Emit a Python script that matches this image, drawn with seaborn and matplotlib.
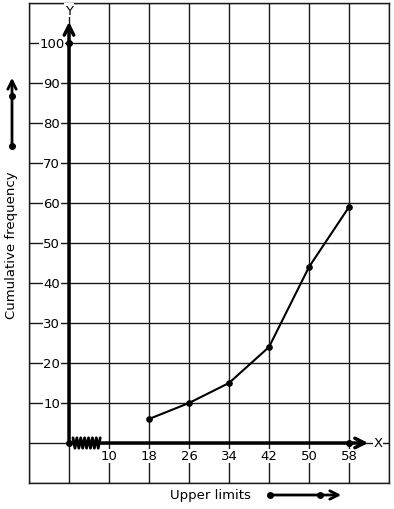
import numpy as np
import pandas as pd
import seaborn as sns
import matplotlib.pyplot as plt

# ogive data
upper_limits = [18, 26, 34, 42, 50, 58]
cum_freq = [6, 10, 15, 24, 44, 59]
x_ticks = [10, 18, 26, 34, 42, 50, 58]
y_ticks = [10, 20, 30, 40, 50, 60, 70, 80, 90, 100]


def to_grid(u):
    # broken x axis: 0 at origin, then 10, 18, ... one grid cell apart
    return (np.asarray(u, dtype=float) - 2) / 8


sns.set_theme(style="white")
plt.rcParams['font.family'] = ['DejaVu Sans']
plt.rcParams['text.color'] = 'black'

fig = plt.figure(figsize=(3.94, 5.10), dpi=100)
ax = fig.add_axes([29 / 394, 26 / 510, 360 / 394, 480 / 510])
ax.set_xlim(-1, 8)
ax.set_ylim(-10, 110)

# grid paper
for gx in range(-1, 9):
    ax.axvline(gx, color='#1a1a1a', lw=1, zorder=1)
for gy in range(-10, 111, 10):
    ax.axhline(gy, color='#1a1a1a', lw=1, zorder=1)
for s in ax.spines.values():
    s.set_color('#1a1a1a')
    s.set_linewidth(1)
ax.set_xticks([])
ax.set_yticks([])

# axes with arrows
ax.annotate('', xy=(0, 106), xytext=(0, 0),
            arrowprops=dict(arrowstyle='->', lw=2.5, color='black', mutation_scale=17), zorder=4)
ax.annotate('', xy=(7.55, 0), xytext=(0, 0),
            arrowprops=dict(arrowstyle='->', lw=2.5, color='black', mutation_scale=17), zorder=4)
ax.plot([0, 0, to_grid(58)], [0, 100, 0], 'o', color='black', ms=4, zorder=5)

# kink on the x axis
zx = np.linspace(0.1, 0.78, 15)
zy = np.where(np.arange(15) % 2 == 0, 1.3, -1.3)
ax.plot(zx, zy, color='black', lw=2, zorder=5)

bbox = dict(facecolor='white', edgecolor='none', pad=0.5)
for v in y_ticks:
    ax.text(-0.43, v, str(v), ha='center', va='center', fontsize=9.5, bbox=bbox, zorder=3)
for v in x_ticks:
    ax.text(to_grid(v), -3.2, str(v), ha='center', va='center', fontsize=9.5, bbox=bbox, zorder=3)
ax.text(7.73, 0, 'X', ha='center', va='center', fontsize=9.5, bbox=bbox, zorder=3)
ax.text(0, 108.2, 'Y', ha='center', va='center', fontsize=9.5, bbox=bbox, zorder=3)

df = pd.DataFrame({'x': to_grid(upper_limits), 'cf': cum_freq})
sns.lineplot(data=df, x='x', y='cf', ax=ax, color='black', lw=1.5,
             marker='o', markersize=4, markeredgecolor='black', zorder=6)
ax.set_xlabel('')
ax.set_ylabel('')
ax.set_xlim(-1, 8)
ax.set_ylim(-10, 110)

# axis titles with direction arrows
fig.text(12 / 394, 1 - 245 / 510, 'Cumulative frequency', rotation=90,
         ha='center', va='center', fontsize=9.5)
fig.text(210 / 394, 1 - 496 / 510, 'Upper limits', ha='center', va='center', fontsize=9.5)
fa = fig.add_axes([0, 0, 1, 1], facecolor='none')
fa.set_xlim(0, 394)
fa.set_ylim(510, 0)
fa.axis('off')
fa.annotate('', xy=(12, 76), xytext=(12, 147),
            arrowprops=dict(arrowstyle='->', lw=2, color='black', mutation_scale=15))
fa.plot([12, 12], [147, 97], 'o', color='black', ms=4)
fa.annotate('', xy=(344, 496), xytext=(270, 496),
            arrowprops=dict(arrowstyle='->', lw=2, color='black', mutation_scale=15))
fa.plot([270, 320], [496, 496], 'o', color='black', ms=4)

fig.savefig('out.png', dpi=100, facecolor='white')
